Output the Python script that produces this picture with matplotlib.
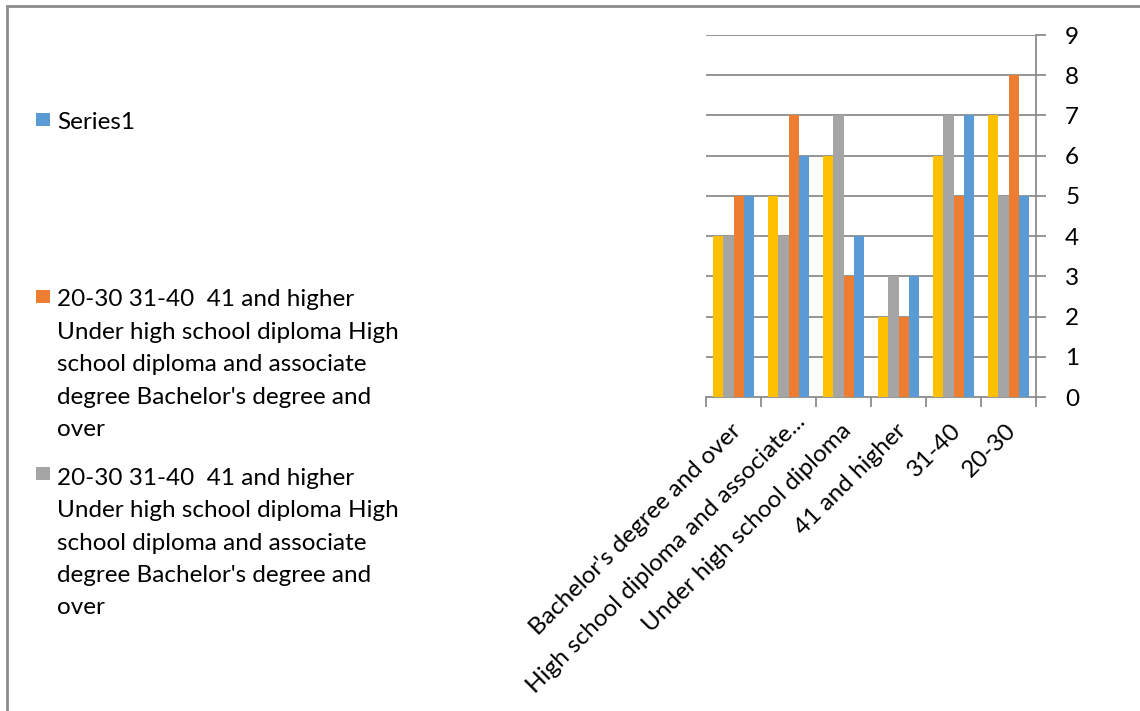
import textwrap
import matplotlib
matplotlib.use("Agg")
import matplotlib.pyplot as plt
import matplotlib.transforms as mtransforms
from matplotlib.patches import Rectangle
import numpy as np

plt.rcParams['font.family'] = ['Lato', 'DejaVu Sans']

# Categories in sheet order (the axis is drawn in reverse order)
categories = ["20-30", "31-40", "41 and higher", "Under high school diploma",
              "High school diploma and associate degree", "Bachelor's degree and over"]
tick_labels = ["20-30", "31-40", "41 and higher", "Under high school diploma",
               "High school diploma and associate...", "Bachelor's degree and over"]

long_name = ("20-30 31-40  41 and higher Under high school diploma High school "
             "diploma and associate degree Bachelor's degree and over")
series_names = ["Series1", long_name, long_name, "Series4"]
series1 = [5, 7, 3, 4, 6, 5]
series2 = [8, 5, 2, 3, 7, 5]
series3 = [5, 7, 3, 7, 4, 4]
series4 = [7, 6, 2, 6, 5, 4]
series_values = [series1, series2, series3, series4]
colors = ["#5B9BD5", "#ED7D31", "#A5A5A5", "#FFC000"]
y_ticks = list(range(0, 10))

W, H = 1140, 711
DPI = 100
FS = 17.5
fig = plt.figure(figsize=(W / DPI, H / DPI), dpi=DPI)
fig.patch.set_facecolor("white")

def fx(x):
    return x / W

def fy(y):
    return 1 - y / H

# chart area border
fig.add_artist(Rectangle((fx(7), -0.2), 1.5, fy(6) + 0.2, transform=fig.transFigure,
                         fill=False, edgecolor="#8c8c8c", linewidth=2))

left, right, top, bottom = 706, 1036, 35, 397
ax = fig.add_axes([fx(left), fy(bottom), fx(right - left), (bottom - top) / H])

grid_color = "#8c8c8c"
x = np.arange(len(categories))
bw = 0.182
for i, (vals, c) in enumerate(zip(series_values, colors)):
    ax.bar(x + (i - 1.5) * bw, vals, width=bw, color=c, zorder=3)

ax.set_xlim(len(categories) - 0.5, -0.5)
ax.set_ylim(0, 9)

ax.yaxis.tick_right()
ax.set_yticks(y_ticks)
ax.tick_params(axis="y", length=7, width=1.3, color=grid_color, pad=14,
               labelsize=FS, labelcolor="black")
for yv in y_ticks[1:]:
    ax.axhline(yv, color=grid_color, linewidth=1.3, zorder=1)

# category boundary ticks
ax.set_xticks(np.arange(-0.5, len(categories), 1.0))
ax.set_xticklabels([])
ax.tick_params(axis="x", which="major", length=7, width=1.3, color=grid_color)
ax.set_xticks(x, minor=True)
ax.set_xticklabels(tick_labels, minor=True, rotation=45, ha="right", va="center",
                   rotation_mode="anchor", fontsize=FS)
ax.tick_params(axis="x", which="minor", length=0, pad=0)
label_shift = [(4, -30)] * len(tick_labels)
label_shift[4] = (13, -21)  # truncated label sits a little further along
for lab, (dx, dy) in zip(ax.get_xticklabels(minor=True), label_shift):
    off = mtransforms.ScaledTranslation(dx / DPI, dy / DPI, fig.dpi_scale_trans)
    lab.set_transform(lab.get_transform() + off)

for s in ["top", "left"]:
    ax.spines[s].set_visible(False)
ax.spines["right"].set_color(grid_color)
ax.spines["right"].set_linewidth(1.3)
ax.spines["bottom"].set_color(grid_color)
ax.spines["bottom"].set_linewidth(1.3)
ax.set_facecolor("none")

# legend (three visible entries): series index, square top, text top
legend_rows = [(0, 113, 112), (1, 290, 289.5), (2, 467, 468)]
for idx, sq_top, text_top in legend_rows:
    fig.add_artist(Rectangle((fx(36), fy(sq_top + 13)), 14 / W, 13 / H,
                             transform=fig.transFigure, facecolor=colors[idx],
                             edgecolor="none"))
    label = "\n".join(textwrap.wrap(series_names[idx], 30))
    fig.text(fx(57), fy(text_top), label, ha="left", va="top", fontsize=FS,
             linespacing=1.668, color="black")

fig.savefig("out.png", dpi=DPI)
